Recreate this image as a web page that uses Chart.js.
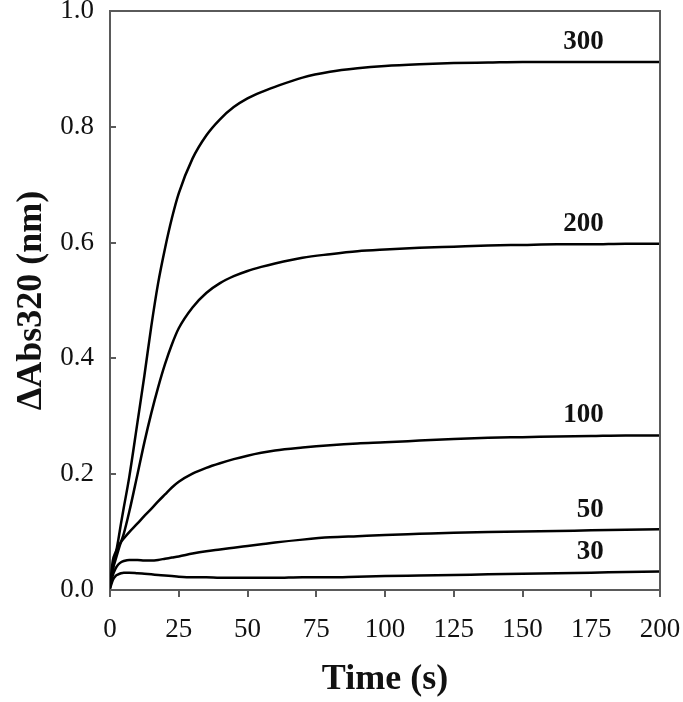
<!DOCTYPE html>
<html>
<head>
<meta charset="utf-8">
<script src="https://cdn.jsdelivr.net/npm/chart.js@4.4.1/dist/chart.umd.min.js"></script>
<style>
  body { margin: 0; background: #fff; }
  #wrap { width: 683px; height: 702px; }
</style>
</head>
<body>
<div id="wrap"><canvas id="absChart" width="683" height="702"></canvas></div>
<script>
// time points (s)
const times = [0, 1, 2, 3, 4, 5, 7, 10, 12.5, 15, 17.5, 20, 22.5, 25, 30, 35, 40, 45, 50, 55, 60,
  70, 80, 90, 100, 112.5, 125, 137.5, 150, 162.5, 175, 187.5, 200];

const series300 = [0.005, 0.035, 0.06, 0.086, 0.115, 0.142, 0.195, 0.29, 0.37, 0.455, 0.53, 0.59, 0.642, 0.685,
  0.745, 0.785, 0.813, 0.834, 0.849, 0.86, 0.869, 0.885, 0.895, 0.901, 0.905, 0.908, 0.91, 0.911,
  0.912, 0.912, 0.912, 0.912, 0.912];
const series200 = [0.005, 0.035, 0.052, 0.068, 0.083, 0.097, 0.135, 0.2, 0.255, 0.305, 0.35, 0.39, 0.424, 0.452,
  0.488, 0.513, 0.53, 0.542, 0.551, 0.558, 0.564, 0.574, 0.58, 0.585, 0.588, 0.591, 0.593, 0.595,
  0.596, 0.597, 0.597, 0.598, 0.598];
const series100 = [0.005, 0.05, 0.065, 0.075, 0.083, 0.089, 0.1, 0.115, 0.128, 0.14, 0.153, 0.165, 0.177, 0.187,
  0.201, 0.211, 0.219, 0.226, 0.232, 0.237, 0.241, 0.246, 0.25, 0.253, 0.255, 0.258, 0.261, 0.263,
  0.264, 0.265, 0.266, 0.267, 0.267];
const series50 = [0.003, 0.025, 0.037, 0.044, 0.048, 0.05, 0.052, 0.052, 0.051, 0.051, 0.052, 0.054, 0.056, 0.058,
  0.063, 0.067, 0.07, 0.073, 0.076, 0.079, 0.082, 0.087, 0.091, 0.093, 0.095, 0.097, 0.099, 0.1,
  0.101, 0.102, 0.103, 0.104, 0.105];
const series30 = [0.002, 0.017, 0.024, 0.027, 0.029, 0.03, 0.03, 0.029, 0.028, 0.027, 0.026, 0.025, 0.024, 0.023,
  0.022, 0.022, 0.021, 0.021, 0.021, 0.021, 0.021, 0.022, 0.022, 0.023, 0.024, 0.025, 0.026, 0.027,
  0.028, 0.029, 0.030, 0.031, 0.032];

const seriesNames = ["300", "200", "100", "50", "30"];
const allSeries = [series300, series200, series100, series50, series30];

const xTicks = [0, 25, 50, 75, 100, 125, 150, 175, 200];
const yTicks = [0, 0.2, 0.4, 0.6, 0.8, 1.0];

const serif = "'Liberation Serif', 'Times New Roman', serif";
const axisColor = "#5a5a5a";

function toPoints(values) {
  return values.map(function (v, i) { return { x: times[i], y: v }; });
}

// top + right frame lines
const framePlugin = {
  id: "frame",
  afterDatasetsDraw: function (chart) {
    const a = chart.chartArea;
    const ctx = chart.ctx;
    ctx.save();
    ctx.strokeStyle = axisColor;
    ctx.lineWidth = 2;
    ctx.beginPath();
    ctx.moveTo(a.left, a.top);
    ctx.lineTo(a.right, a.top);
    ctx.lineTo(a.right, a.bottom);
    ctx.stroke();
    ctx.restore();
  }
};

// concentration labels above the right end of each curve
const curveLabelPlugin = {
  id: "curveLabels",
  afterDatasetsDraw: function (chart) {
    const ctx = chart.ctx;
    const xs = chart.scales.x;
    const ys = chart.scales.y;
    ctx.save();
    ctx.font = "bold 27px " + serif;
    ctx.fillStyle = "#111";
    ctx.textAlign = "right";
    ctx.textBaseline = "alphabetic";
    chart.data.datasets.forEach(function (ds) {
      const last = ds.data[ds.data.length - 2];
      ctx.fillText(ds.label, xs.getPixelForValue(179.5), ys.getPixelForValue(last.y) - 13);
    });
    ctx.restore();
  }
};

const ctx = document.getElementById("absChart").getContext("2d");
new Chart(ctx, {
  type: "line",
  data: {
    datasets: allSeries.map(function (vals, i) {
      return {
        label: seriesNames[i],
        data: toPoints(vals),
        borderColor: "#000",
        borderWidth: 2.5,
        pointRadius: 0,
        fill: false,
        cubicInterpolationMode: "monotone"
      };
    })
  },
  options: {
    responsive: false,
    animation: false,
    layout: { padding: { top: 11, right: 23, left: 8, bottom: 0 } },
    plugins: {
      legend: { display: false },
      tooltip: { enabled: false }
    },
    scales: {
      x: {
        type: "linear",
        min: 0,
        max: 200,
        afterBuildTicks: function (scale) {
          scale.ticks = xTicks.map(function (v) { return { value: v }; });
        },
        afterFit: function (scale) {
          scale.height = 112;
          scale.paddingLeft = 0;
          scale.paddingRight = 0;
        },
        ticks: {
          color: "#111",
          font: { family: serif, size: 27 },
          padding: 17,
          maxRotation: 0,
          callback: function (v) { return String(v); }
        },
        grid: { drawOnChartArea: false, drawTicks: true, tickLength: 7, color: axisColor, lineWidth: 2 },
        border: { color: axisColor, width: 2 },
        title: {
          display: true,
          text: "Time (s)",
          color: "#111",
          font: { family: serif, size: 36, weight: "bold" },
          padding: { top: 0, bottom: 1 }
        }
      },
      y: {
        min: 0,
        max: 1.0,
        afterBuildTicks: function (scale) {
          scale.ticks = yTicks.map(function (v) { return { value: v }; });
        },
        afterFit: function (scale) {
          scale.width = 102;
          scale.paddingTop = 0;
          scale.paddingBottom = 0;
        },
        ticks: {
          color: "#111",
          font: { family: serif, size: 27 },
          padding: 22,
          callback: function (v) { return v.toFixed(1); }
        },
        grid: { drawOnChartArea: false, drawTicks: true, tickLength: -6, color: axisColor, lineWidth: 2 },
        border: { color: axisColor, width: 2 },
        title: {
          display: true,
          text: "ΔAbs320 (nm)",
          color: "#111",
          font: { family: serif, size: 36, weight: "bold" },
          padding: { top: 2, bottom: 0 }
        }
      }
    }
  },
  plugins: [framePlugin, curveLabelPlugin]
});
</script>
</body>
</html>
